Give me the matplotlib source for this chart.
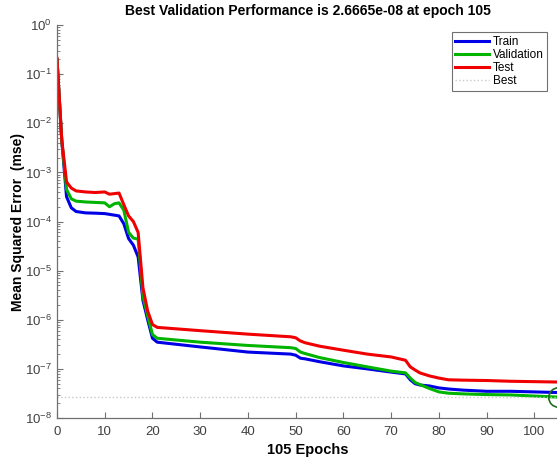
import matplotlib
matplotlib.use("Agg")
import matplotlib.pyplot as plt
from matplotlib.ticker import LogLocator, NullFormatter

plt.rcParams['font.family'] = ['Liberation Sans', 'DejaVu Sans']
plt.rcParams['mathtext.fontset'] = 'custom'
plt.rcParams['mathtext.rm'] = 'Liberation Sans'
plt.rcParams['mathtext.it'] = 'Liberation Sans:italic'
plt.rcParams['mathtext.bf'] = 'Liberation Sans:bold'

epochs = [0, 1, 2, 3, 4, 6, 8, 10, 11, 12, 13, 14, 15, 16, 17, 18, 19, 20, 21,
          30, 40, 49, 50, 51, 52, 55, 60, 65, 70, 73, 74, 75, 76, 78, 80, 82,
          85, 90, 95, 100, 105]

train = [0.2, 4.5e-3, 3.2e-4, 1.9e-4, 1.6e-4, 1.5e-4, 1.48e-4, 1.45e-4, 1.4e-4,
         1.35e-4, 1.3e-4, 9e-5, 4.5e-5, 3.3e-5, 1.9e-5, 2.5e-6, 1e-6, 4.2e-7,
         3.5e-7, 2.8e-7, 2.2e-7, 2e-7, 1.9e-7, 1.65e-7, 1.6e-7, 1.4e-7, 1.15e-7,
         1e-7, 8.6e-8, 7.9e-8, 6e-8, 5e-8, 4.7e-8, 4.5e-8, 4.1e-8, 3.9e-8,
         3.7e-8, 3.5e-8, 3.5e-8, 3.4e-8, 3.3e-8]

validation = [0.2, 4.5e-3, 4.5e-4, 2.9e-4, 2.6e-4, 2.5e-4, 2.45e-4, 2.4e-4, 2e-4,
              2.3e-4, 2.4e-4, 1.7e-4, 6e-5, 4.6e-5, 4.4e-5, 3e-6, 1.2e-6, 5e-7,
              4.2e-7, 3.5e-7, 3e-7, 2.7e-7, 2.6e-7, 2.2e-7, 2.05e-7, 1.7e-7,
              1.35e-7, 1.1e-7, 9e-8, 8.3e-8, 6.5e-8, 5.3e-8, 4.8e-8, 4e-8,
              3.4e-8, 3.2e-8, 3.1e-8, 3e-8, 2.95e-8, 2.8e-8, 2.6665e-8]

test = [0.21, 4.6e-3, 6.4e-4, 4.8e-4, 4.2e-4, 4e-4, 3.9e-4, 4e-4, 3.6e-4, 3.7e-4,
        3.8e-4, 2.2e-4, 1.3e-4, 1e-4, 6e-5, 4.5e-6, 1.5e-6, 8e-7, 7e-7, 6e-7,
        5.1e-7, 4.5e-7, 4.3e-7, 3.7e-7, 3.4e-7, 2.9e-7, 2.4e-7, 2e-7, 1.75e-7,
        1.5e-7, 1.1e-7, 9.5e-8, 8.3e-8, 7.2e-8, 6.5e-8, 6e-8, 5.9e-8, 5.8e-8,
        5.6e-8, 5.5e-8, 5.4e-8]

best_epoch = 105
best_perf = 2.6665e-8
n_epochs = 105

fig = plt.figure(figsize=(5.57, 4.58), dpi=100)
ax = fig.add_axes([0.1023, 0.0873, 0.9, 0.858])

ax.semilogy(epochs, train, color='#0000e6', lw=2.2, label='Train')
ax.semilogy(epochs, validation, color='#00b400', lw=2.2, label='Validation')
ax.semilogy(epochs, test, color='#f00000', lw=2.2, label='Test')
ax.axhline(best_perf, color='#c8c8c8', lw=1, ls=':', label='Best')
ax.semilogy([best_epoch], [best_perf], 'o', mfc='none', mec='#1f6e1f',
            ms=14, mew=1.2, clip_on=False)

ax.set_xlim(0, n_epochs)
ax.set_ylim(1e-8, 1)
ax.set_xticks(range(0, 101, 10))
ax.yaxis.set_major_locator(LogLocator(base=10, numticks=10))
ax.yaxis.set_minor_locator(LogLocator(base=10, subs=range(2, 10), numticks=10))
ax.yaxis.set_minor_formatter(NullFormatter())

for s in ['top', 'right']:
    ax.spines[s].set_visible(False)
for s in ['left', 'bottom']:
    ax.spines[s].set_color('#707070')
    ax.spines[s].set_linewidth(0.9)
ax.tick_params(which='both', direction='in', colors='#707070',
               labelcolor='#404040', labelsize=9.5)
ax.tick_params(which='major', length=4)
ax.tick_params(which='minor', length=2)
ax.tick_params(axis='x', pad=6)

ax.set_title('Best Validation Performance is %.4e at epoch %d' % (best_perf, best_epoch),
             fontsize=10, fontweight='bold', pad=7)
ax.set_xlabel('%d Epochs' % n_epochs, fontsize=10.5, fontweight='bold', labelpad=3)
ax.set_ylabel('Mean Squared Error  (mse)', fontsize=10, fontweight='bold')
ax.yaxis.set_label_coords(-0.064, 0.5)

leg = ax.legend(loc='upper right', bbox_to_anchor=(0.99, 0.997), fontsize=8.5,
                handlelength=2.9, handletextpad=0.3, labelspacing=0.1,
                borderpad=0.3, fancybox=False, framealpha=1)
leg.get_frame().set_edgecolor('#707070')
leg.get_frame().set_linewidth(0.8)

fig.savefig('out.png', dpi=100)
